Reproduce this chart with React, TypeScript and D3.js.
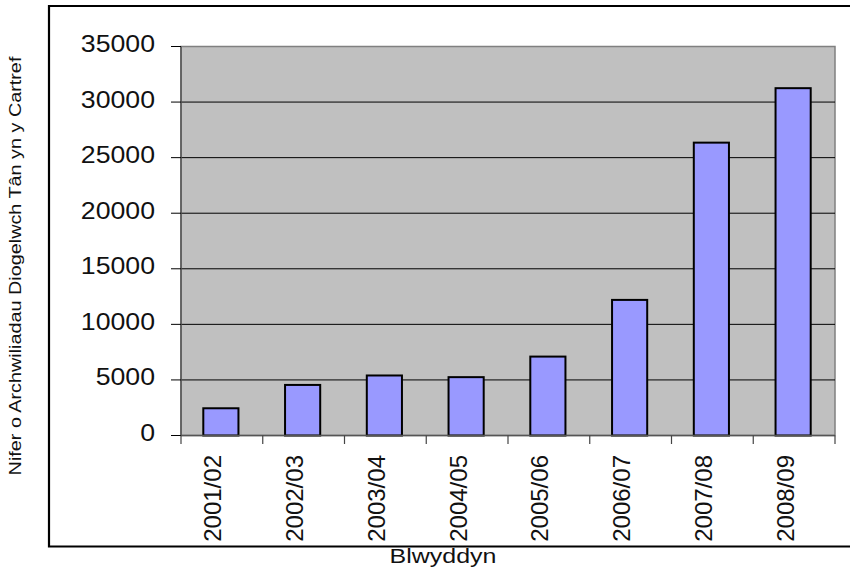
import React from "react";
import * as d3 from "d3";

const categories = ["2001/02", "2002/03", "2003/04", "2004/05", "2005/06", "2006/07", "2007/08", "2008/09"];
const values = [2450, 4550, 5400, 5250, 7100, 12200, 26350, 31250];
const yTicks = [0, 5000, 10000, 15000, 20000, 25000, 30000, 35000];
const xTitle = "Blwyddyn";
const yTitle = "Nifer o Archwiliadau Diogelwch Tân yn y Cartref";

const W = 850;
const H = 574;
const plot = { left: 181, right: 835, top: 46.5, bottom: 435.5 };
const FONT = "Arial, 'Liberation Sans', Helvetica, sans-serif";

export default function App() {
  const x = d3.scaleBand<string>().domain(categories).range([plot.left, plot.right]).padding(0);
  const y = d3.scaleLinear().domain([0, 35000]).range([plot.bottom, plot.top]);
  const bw = x.bandwidth();
  const barW = bw * 0.43;

  return (
    <div style={{ position: "fixed", left: 0, top: 0 }}>
      <svg width={W} height={H} style={{ display: "block", background: "#fff" }}>
        {/* outer frame */}
        <path d={`M ${W + 5} 6 H 49 V 546.5 H ${W + 5}`} fill="none" stroke="#000" strokeWidth={2.2} />

        {/* plot area */}
        <rect
          x={plot.left}
          y={plot.top}
          width={plot.right - plot.left}
          height={plot.bottom - plot.top}
          fill="#C0C0C0"
          stroke="#808080"
          strokeWidth={1.5}
        />

        {/* gridlines */}
        {yTicks.slice(1, -1).map((t) => (
          <line key={t} x1={plot.left} x2={plot.right} y1={y(t)} y2={y(t)} stroke="#000" strokeWidth={1} />
        ))}

        {/* bars */}
        {categories.map((c, i) => (
          <rect
            key={c}
            x={(x(c) as number) + (bw - barW) / 2 - 1}
            y={y(values[i])}
            width={barW}
            height={plot.bottom - y(values[i])}
            fill="#9999FF"
            stroke="#000"
            strokeWidth={2}
          />
        ))}

        {/* y axis */}
        <line x1={plot.left} x2={plot.left} y1={plot.top} y2={plot.bottom} stroke="#555" strokeWidth={1.5} />
        {yTicks.map((t) => (
          <g key={t}>
            <line x1={171} x2={plot.left} y1={y(t)} y2={y(t)} stroke="#000" strokeWidth={1} />
            <text
              transform={`translate(155,${y(t) + 5.5}) scale(1.16,1)`}
              textAnchor="end"
              fontFamily={FONT}
              fontSize={23}
              fill="#111"
            >
              {t}
            </text>
          </g>
        ))}

        {/* x axis */}
        <line x1={plot.left} x2={plot.right} y1={plot.bottom} y2={plot.bottom} stroke="#555" strokeWidth={1.5} />
        {categories.map((c) => (
          <line
            key={"t" + c}
            x1={x(c) as number}
            x2={x(c) as number}
            y1={plot.bottom}
            y2={plot.bottom + 8.5}
            stroke="#444"
            strokeWidth={1.2}
          />
        ))}
        <line x1={plot.right} x2={plot.right} y1={plot.bottom} y2={plot.bottom + 8.5} stroke="#444" strokeWidth={1.2} />
        {categories.map((c) => (
          <text
            key={"l" + c}
            transform={`translate(${(x(c) as number) + bw / 2 - 0.5},455) rotate(-90)`}
            textAnchor="end"
            fontFamily={FONT}
            fontSize={24}
            fill="#111"
          >
            {c}
          </text>
        ))}

        {/* axis titles */}
        <text
          transform={`translate(443,563) scale(1.19,1)`}
          textAnchor="middle"
          fontFamily={FONT}
          fontSize={21}
          fill="#111"
        >
          {xTitle}
        </text>
        <text
          transform={`translate(21,266) rotate(-90) scale(1.2,1)`}
          textAnchor="middle"
          fontFamily={FONT}
          fontSize={16.5}
          fill="#111"
        >
          {yTitle}
        </text>
      </svg>
    </div>
  );
}
